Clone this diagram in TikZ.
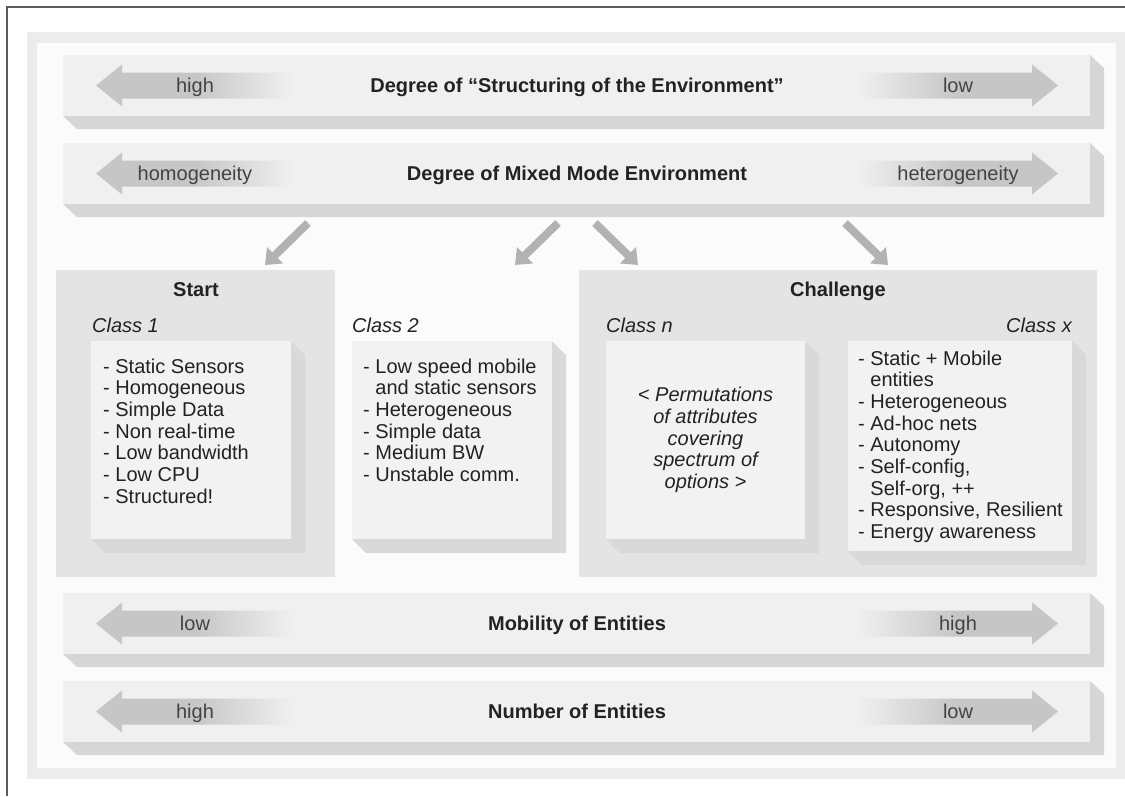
\documentclass[tikz,border=0pt]{standalone}
\usepackage{fontspec}
\setmainfont{Liberation Sans}
\usetikzlibrary{arrows.meta}
\definecolor{frame-gray}{HTML}{5A5A5A}
\definecolor{panel-gray}{HTML}{ECECEC}
\definecolor{panel-white}{HTML}{FBFBFB}
\definecolor{bar-face}{HTML}{F0F0F0}
\definecolor{bar-side}{HTML}{D6D6D6}
\definecolor{group-gray}{HTML}{E4E4E4}
\definecolor{card-face}{HTML}{F2F2F2}
\definecolor{card-side}{HTML}{D9D9D9}
\definecolor{scale-arrow}{HTML}{C6C6C6}
\definecolor{link-gray}{HTML}{B2B2B2}
\definecolor{ink}{HTML}{222222}
\colorlet{end-ink}{ink!85!white}
\pgfdeclarehorizontalshading{scale-left}{100bp}{color(0bp)=(scale-arrow); color(50bp)=(scale-arrow); color(75bp)=(bar-face); color(100bp)=(bar-face)}
\pgfdeclarehorizontalshading{scale-right}{100bp}{color(0bp)=(bar-face); color(25bp)=(bar-face); color(50bp)=(scale-arrow); color(100bp)=(scale-arrow)}
\tikzset{
  scale-title/.style={anchor=base, font=\fontsize{20}{24}\selectfont\bfseries, text=ink, inner sep=0pt},
  scale-end/.style={anchor=base, font=\fontsize{20}{24}\selectfont, text=end-ink, inner sep=0pt},
  group-title/.style={anchor=base, font=\fontsize{20}{24}\selectfont\bfseries, text=ink, inner sep=0pt},
  class-label/.style={font=\fontsize{20}{24}\selectfont\itshape, text=ink, inner sep=0pt},
  % base of a list node is the baseline of its last line
  class-list/.style={anchor=base west, align=left, font=\fontsize{20}{21.7}\selectfont, text=ink, inner sep=0pt},
  class-note/.style={align=center, font=\fontsize{20}{21.7}\selectfont\itshape, text=ink, inner sep=0pt},
  class-link/.style={draw=link-gray, fill=link-gray, line width=8pt, -{Triangle[length=14pt,width=22pt]}},
}
\newcommand{\tikzscalebar}[5]{%
% #1 name, #2 top edge, #3 title, #4 left end, #5 right end
\pgfmathsetmacro{\bartop}{#2}
\pgfmathsetmacro{\barbottom}{#2+61}
\pgfmathsetmacro{\barmid}{#2+30.5}
% extruded side
\fill[bar-side] (1090,\bartop) -- (1104,\bartop+13) -- (1104,\barbottom+13) -- (77,\barbottom+13) -- (63,\barbottom) -- (1090,\barbottom) -- cycle;
% top face
\fill[bar-face] (63,\bartop) rectangle (1090,\barbottom);
% arrows to both ends
\shade[shading=scale-left] (96,\barmid) -- (122,\barmid-21) -- (122,\barmid-13) -- (293,\barmid-13) -- (293,\barmid+13) -- (122,\barmid+13) -- (122,\barmid+21) -- cycle;
\shade[shading=scale-right] (1058,\barmid) -- (1032,\barmid-21) -- (1032,\barmid-13) -- (857,\barmid-13) -- (857,\barmid+13) -- (1032,\barmid+13) -- (1032,\barmid+21) -- cycle;
\node[scale-end] (#1-left) at (195,\barmid+7) {#4};
\node[scale-end] (#1-right) at (958,\barmid+7) {#5};
\node[scale-title] (#1) at (577,\barmid+7) {#3};
}
\newcommand{\tikzcard}[4]{%
% #1,#2 top left and #3,#4 bottom right of the face
\fill[card-side] (#3,#2) -- (#3+14,#2+14) -- (#3+14,#4+14) -- (#1+14,#4+14) -- (#1,#4) -- (#3,#4) -- cycle;
\fill[card-face] (#1,#2) rectangle (#3,#4);
}

\begin{document}
\begin{tikzpicture}[x=1pt, y=-1pt]
\useasboundingbox (0,0) rectangle (1125,796);
% frame and panel
\draw[frame-gray, line width=1.2pt] (7,796) -- (7,7) -- (1125,7);
\fill[panel-gray] (27,32) rectangle (1125,779);
\fill[panel-white] (37,43) rectangle (1116,768);
% scales
\tikzscalebar{structuring}{55}{Degree of “Structuring of the Environment”}{high}{low}
\tikzscalebar{mixed}{143}{Degree of Mixed Mode Environment}{homogeneity}{heterogeneity}
\tikzscalebar{mobility}{593}{Mobility of Entities}{low}{high}
\tikzscalebar{number}{681}{Number of Entities}{high}{low}
% links down to the classes
\foreach \from/\to [count=\i] in {308/265, 558/515, 595/638, 845/888} {
  \coordinate (link-\i-a) at (\from,223);
  \coordinate (link-\i-b) at (\to,265);
  \draw[class-link] (link-\i-a) -- (link-\i-b);
}
% groups
\fill[group-gray] (56,270) rectangle (335,577);
\fill[group-gray] (579,270) rectangle (1097,577);
\node[group-title] (start) at (196,296) {Start};
\node[group-title] (challenge) at (838,296) {Challenge};
% classes
\tikzcard{91}{341}{291}{539}
\tikzcard{352}{341}{552}{539}
\tikzcard{606}{341}{805}{539}
\tikzcard{848}{341}{1072}{551}
\node[class-label, anchor=base west] (class-1) at (92,332) {Class 1};
\node[class-label, anchor=base west] (class-2) at (352,332) {Class 2};
\node[class-label, anchor=base west] (class-n) at (606,332) {Class n};
\node[class-label, anchor=base east] (class-x) at (1072,332) {Class x};
\node[class-list] (class-1-list) at (103,503.2) {- Static Sensors\\- Homogeneous\\- Simple Data\\- Non real-time\\- Low bandwidth\\- Low CPU\\- Structured!};
\node[class-list] (class-2-list) at (363,481.5) {- Low speed mobile\\\phantom{- }and static sensors\\- Heterogeneous\\- Simple data\\- Medium BW\\- Unstable comm.};
\node[class-note] (class-n-note) at (705.5,440) {< Permutations\\of attributes\\covering\\spectrum of\\options >};
\node[class-list] (class-x-list) at (858,538.6) {- Static + Mobile\\\phantom{- }entities\\- Heterogeneous\\- Ad-hoc nets\\- Autonomy\\- Self-config,\\\phantom{- }Self-org, ++\\- Responsive, Resilient\\- Energy awareness};
\end{tikzpicture}
\end{document}
